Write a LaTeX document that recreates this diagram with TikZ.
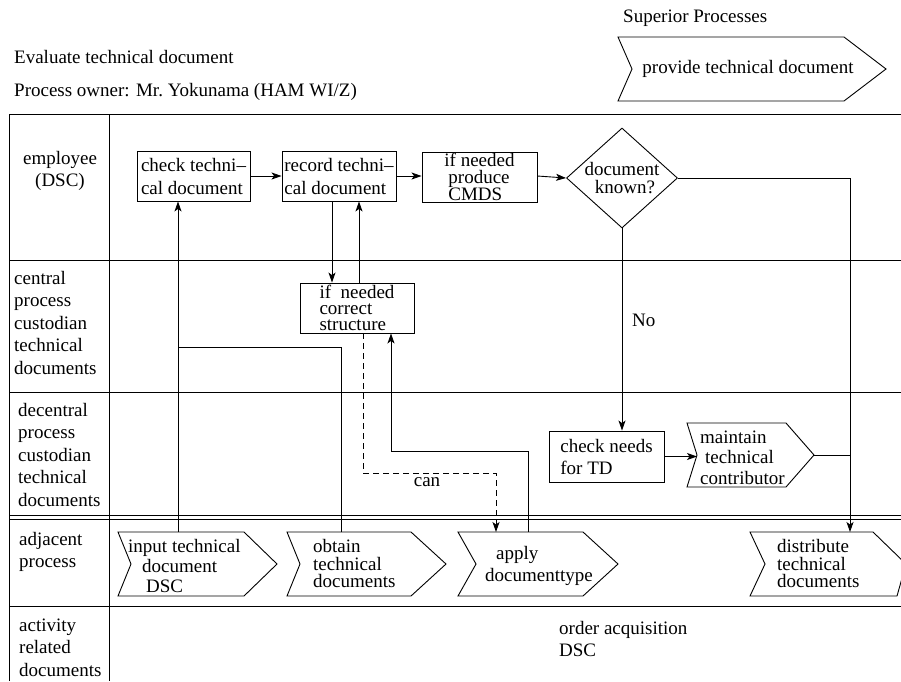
\documentclass[tikz,border=0pt]{standalone}
\usepackage{fontspec}
\setmainfont{Liberation Serif}
\usetikzlibrary{arrows.meta,shapes.geometric}
\begin{document}
\begin{tikzpicture}[x=1pt,y=-1pt,
  every node/.style={font=\fontsize{19}{22}\selectfont, inner sep=0pt},
  ln/.style={line width=0.9pt},
  arr/.style={ln,-{Stealth[length=10pt,width=7pt,inset=2.5pt]}},
  box/.style={draw, line width=0.9pt, rectangle, align=left},
  chev/.style={draw, line width=0.9pt},
  lbl/.style={anchor=west, align=left, font=\fontsize{19}{22.5}\selectfont},
  one/.style={anchor=west, text height=13pt, text depth=4.5pt},
  dsh/.style={dash pattern=on 6pt off 4pt}
]
\useasboundingbox (0,0) rectangle (901,681);

% table
\draw[ln] (9,681) -- (9,114) -- (901,114);
\draw[ln] (109,114) -- (109,681);
\foreach \yy in {260,392,515,519,606} \draw[ln] (9,\yy) -- (901,\yy);

% header texts
\node[one] (sup) at (623,18) {Superior Processes};
\node[one] (ttl) at (14,59) {Evaluate technical document};
\node[one] (own) at (14,92) {Process owner: Mr.\ Yokunama (HAM WI/Z)};
\draw[chev] (618,37) -- (844,37) -- (886,69) -- (844,101) -- (618,101) -- (632,69) -- cycle;
\node (prov) at (748,69) {provide technical document};

% lane labels
\node[align=center, font=\fontsize{19}{22}\selectfont] (l1) at (60,171) {employee\\(DSC)};
\node[lbl] (l2) at (14,322.5) {central\\process\\custodian\\technical\\documents};
\node[lbl] (l3) at (18,454.5) {decentral\\process\\custodian\\technical\\documents};
\node[lbl] (l4) at (19,552) {adjacent\\process};
\node[lbl] (l5) at (19,647.5) {activity\\related\\documents};

% employee lane
\node[box, minimum width=113, minimum height=50, font=\fontsize{19}{23}\selectfont] (check) at (193.5,176) {check techni--\\cal document};
\node[box, minimum width=114, minimum height=50, font=\fontsize{19}{23}\selectfont] (record) at (339,176) {record techni--\\cal document};
\node[box, minimum width=115, minimum height=50, font=\fontsize{19}{17}\selectfont] (cmds) at (479.5,177) {if needed\hspace{12pt}\\\hspace{4pt}produce\\\hspace{4pt}CMDS};
\node[draw, ln, diamond, inner sep=-4pt, minimum width=111, minimum height=100, align=center, font=\fontsize{19}{18}\selectfont] (dia) at (622,178) {document\\\hspace{6pt}known?};

% central lane
\node[box, minimum width=114, minimum height=50, font=\fontsize{19}{16}\selectfont] (corr) at (357,308) {if~~needed\hspace{8pt}\\correct\\structure};

% decentral lane
\node[box, minimum width=115, minimum height=51, font=\fontsize{19}{22}\selectfont] (need) at (606.5,456.5) {check needs\\for TD};
\draw[chev] (687,423) -- (786,423) -- (814,455) -- (786,487) -- (687,487) -- (697,455) -- cycle;
\node[anchor=west, align=left, font=\fontsize{19}{20.5}\selectfont] (maint) at (700,457.5) {maintain\\\hspace{5pt}technical\\contributor};
\coordinate (maintNotch) at (697,455);
\coordinate (maintTip) at (814,455);

% adjacent lane
\draw[chev] (118,532) -- (244,532) -- (277,564) -- (244,596) -- (118,596) -- (131,564) -- cycle;
\node[anchor=west, align=left, font=\fontsize{19}{20}\selectfont] (input) at (128,566) {input technical\\\hspace{14pt}document\\\hspace{18pt}DSC};
\draw[chev] (287,532) -- (411,532) -- (446,564) -- (411,596) -- (287,596) -- (300,564) -- cycle;
\node[anchor=west, align=left, font=\fontsize{19}{17.5}\selectfont] (obtain) at (313,563.5) {obtain\\technical\\documents};
\draw[chev] (458,532) -- (583,532) -- (618,564) -- (583,596) -- (458,596) -- (476,564) -- cycle;
\node[anchor=west, align=left, font=\fontsize{19}{22}\selectfont] (apply) at (485,566) {\hspace{11pt}apply\\documenttype};
\draw[chev] (750,532) -- (873,532) -- (906,564) -- (897,596) -- (750,596) -- (765,564) -- cycle;
\node[anchor=west, align=left, font=\fontsize{19}{17.5}\selectfont] (distr) at (777,563.5) {distribute\\technical\\documents};

% activity lane
\node[anchor=west, align=left, font=\fontsize{19}{22}\selectfont] (ord) at (559,639) {order acquisition\\DSC};

% labels
\node[one] (no) at (632,322) {No};
\node[text height=13pt, text depth=4.5pt] (can) at (427,482) {can};

% helper coordinates
\coordinate (inTop) at (178,532);
\coordinate (obTop) at (341,532);
\coordinate (obJoin) at (178,347);
\coordinate (xa) at (332,0);
\coordinate (xb) at (359,0);
\coordinate (xd) at (363,0);
\coordinate (xs) at (391,0);
\coordinate (dc) at (496,473);
\coordinate (apTopA) at (496,532);
\coordinate (apTopB) at (528,532);
\coordinate (sc) at (528,451);
\coordinate (distTop) at (850,532);

% connectors
\draw[arr] (check.east) -- (record.west);
\draw[arr] (record.east) -- (cmds.west |- record.east);
\draw[arr] (cmds.east |- record.east) -- (dia.west);
\draw[arr] (dia.east) -| (distTop);
\draw[ln] (maintTip) -- (maintTip -| distTop);
\draw[arr] (inTop) -- (inTop |- check.south);
\draw[ln] (obTop) |- (obJoin);
\draw[arr] (record.south -| xa) -- (corr.north -| xa);
\draw[arr] (corr.north -| xb) -- (record.south -| xb);
\draw[arr, dsh] (corr.south -| xd) |- (dc) -- (apTopA);
\draw[arr] (apTopB) -- (sc) -| (corr.south -| xs);
\draw[arr] (dia.south) -- (dia.south |- need.north);
\draw[arr] (need.east) -- (need.east -| maintNotch);
\end{tikzpicture}
\end{document}
